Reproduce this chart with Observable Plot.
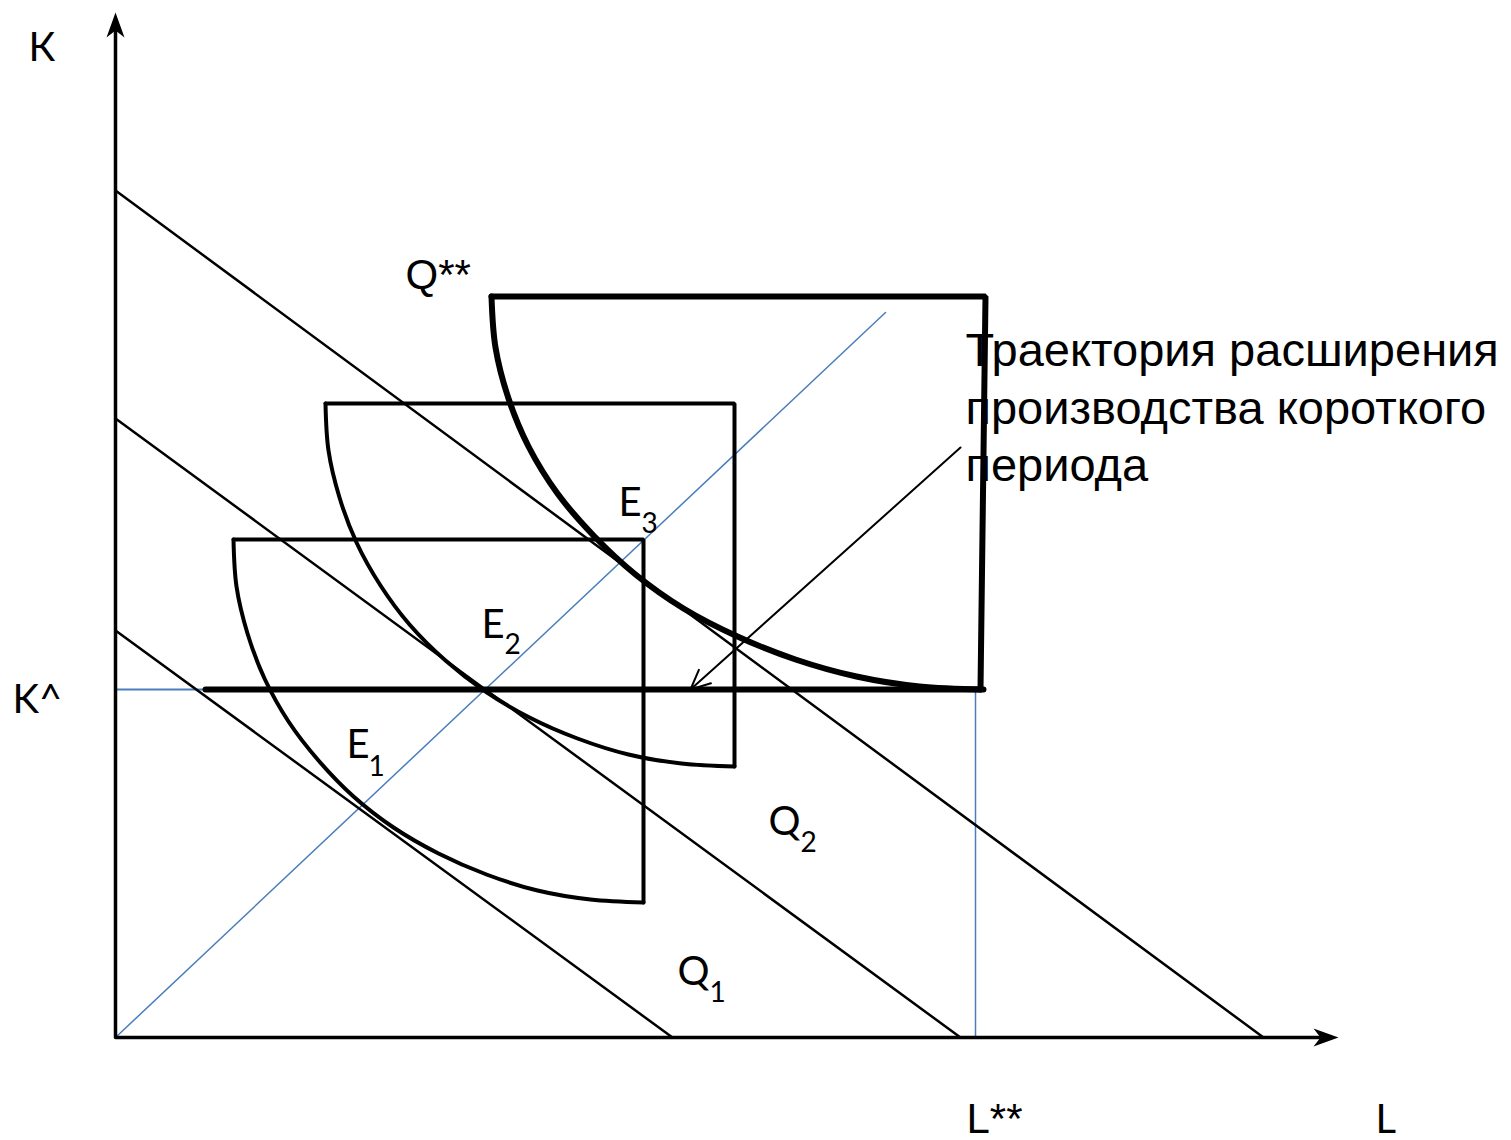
<!DOCTYPE html>
<html>
<head>
<meta charset="utf-8">
<script src="https://cdn.jsdelivr.net/npm/d3@7"></script>
<script src="https://cdn.jsdelivr.net/npm/@observablehq/plot@0.6"></script>
<style>
  html, body { margin: 0; padding: 0; background: #fff; }
  #chart svg { display: block; }
</style>
</head>
<body>
<div id="chart"></div>
<script>
// Units: L (labour) horizontally, K (capital) vertically.
const axisEnds = { L: 1223, K: 1025 };

// Isocost (budget) lines: K-intercept and L-intercept
const isocosts = [
  { name: "C1", k0: 407, l0: 557 },
  { name: "C2", k0: 619, l0: 845 },
  { name: "C3", k0: 847, l0: 1148 }
];

// Short-run isoquant arcs
const arcQ1 = [[118,498],[121,451],[132,404],[149,359],[173,316],[203,277],[238,241],[278,210],[323,184],[371,163],[422,147],[475,138],[528,135]];
const arcQ2 = [[210,634],[213,587],[224,540],[241,495],[265,452],[294,413],[330,377],[370,346],[414,320],[462,299],[513,283],[566,274],[619,271]];
const arcQss = [[376,741],[380,690],[393,639],[413,591],[442,544],[478,502],[520,463],[568,429],[622,401],[680,378],[741,361],[804,351],[868,348]];

// Box closing each isoquant (bottom-right corner, top-right corner, top-left corner)
const boxQ1 = [[528,135],[528,498],[118,498]];
const boxQ2 = [[619,271],[619,634],[210,634]];
const boxQss = [[865,348],[870,741],[376,741]];

// Fixed capital level and L**
const Khat = 348;
const Lstar = 860;
const KhatLineStart = 90;
const KhatLineEnd = 865;

// Long-run expansion path (ray from origin)
const expansionEnd = [770, 725];

// Pointer arrow from caption to short-run path
const pointer = { from: [845, 590], to: [575, 348] };

// Captions
const caption = ["Траектория расширения", "производства короткого", "периода"];
const captionX = 850;
const captionY = [687, 629, 572];

// Labels: main text, subscript
const labels = [
  { t: "E", s: "3", x: 503, y: 534, sx: 526, sy: 513 },
  { t: "E", s: "2", x: 366, y: 412, sx: 389, sy: 392 },
  { t: "E", s: "1", x: 231, y: 292, sx: 253, sy: 270 },
  { t: "Q", s: "2", x: 653, y: 215, sx: 685, sy: 194 },
  { t: "Q", s: "1", x: 562, y: 65,  sx: 594, sy: 44 }
];
const axisLabels = [
  { t: "К",   x: -87,  y: 989 },
  { t: "K^",  x: -103, y: 337 },
  { t: "L",   x: 1260, y: -83 }
];
const starLabels = [
  { t: "Q**", x: 290, y: 762 },
  { t: "L**", x: 851, y: -82 }
];

// ---------- build tables ----------
const isoRows = isocosts.flatMap(d => [{name: d.name, L: 0, K: d.k0}, {name: d.name, L: d.l0, K: 0}]);
const rows = (name, pts) => pts.map(([L, K]) => ({ name, L, K }));
const boxes12 = rows("Q1", boxQ1).concat(rows("Q2", boxQ2));
const arcs12 = rows("Q1", arcQ1).concat(rows("Q2", arcQ2));

const stealth = {
  draw(ctx, size) {
    const r = Math.sqrt(size / Math.PI);
    ctx.moveTo(0, 0);
    ctx.lineTo(0.9 * r, 2.5 * r);
    ctx.lineTo(0, 1.8 * r);
    ctx.lineTo(-0.9 * r, 2.5 * r);
    ctx.closePath();
  }
};

const blue = "#4a7ebb";
const calibri = "Lato, 'Open Sans', sans-serif";
const arial = "'Liberation Sans', Arial, sans-serif";

const chart = Plot.plot({
  width: 1511,
  height: 1140,
  margin: 0,
  x: { domain: [-115, 1396], axis: null },
  y: { domain: [-103, 1037], axis: null },
  style: { background: "#fff", overflow: "visible" },
  marks: [
    // blue helper lines
    Plot.line([[0,0], expansionEnd], { x: d => d[0], y: d => d[1], stroke: blue, strokeWidth: 1.5 }),
    Plot.line([[0,Khat],[KhatLineStart,Khat]], { x: d => d[0], y: d => d[1], stroke: blue, strokeWidth: 2 }),
    Plot.line([[Lstar,Khat],[Lstar,0]], { x: d => d[0], y: d => d[1], stroke: blue, strokeWidth: 1.5 }),
    // isocost lines
    Plot.line(isoRows, { x: "L", y: "K", z: "name", stroke: "black", strokeWidth: 2.5 }),
    // isoquant shapes
    Plot.line(boxes12, { x: "L", y: "K", z: "name", stroke: "black", strokeWidth: 4, strokeLinejoin: "miter" }),
    Plot.line(arcs12, { x: "L", y: "K", z: "name", stroke: "black", strokeWidth: 4, curve: "catmull-rom" }),
    Plot.line(rows("Q**", boxQss), { x: "L", y: "K", stroke: "black", strokeWidth: 6, strokeLinejoin: "miter" }),
    Plot.line(rows("Q**", arcQss), { x: "L", y: "K", stroke: "black", strokeWidth: 6, curve: "catmull-rom" }),
    // short-run path (K fixed)
    Plot.line([[KhatLineStart,Khat],[KhatLineEnd,Khat]], { x: d => d[0], y: d => d[1], stroke: "black", strokeWidth: 6 }),
    // axes
    Plot.line([[0, axisEnds.K - 10],[0,0],[axisEnds.L - 10, 0]], { x: d => d[0], y: d => d[1], stroke: "black", strokeWidth: 3.5 }),
    Plot.dot([{L: 0, K: axisEnds.K, r: 0}, {L: axisEnds.L, K: 0, r: 90}], { x: "L", y: "K", rotate: "r", r: 10, symbol: stealth, fill: "black", stroke: "none" }),
    // pointer arrow
    Plot.arrow([pointer], { x1: d => d.from[0], y1: d => d.from[1], x2: d => d.to[0], y2: d => d.to[1], stroke: "black", strokeWidth: 2, headLength: 16, headAngle: 50 }),
    // caption
    Plot.text(caption, { x: captionX, y: (d, i) => captionY[i], text: d => d, textAnchor: "start", fontSize: 47, fontFamily: arial, fill: "black" }),
    Plot.text(starLabels, { x: "x", y: "y", text: "t", textAnchor: "start", fontSize: 42, fontFamily: arial, fill: "black", letterSpacing: 2 }),
    Plot.text(labels, { x: "x", y: "y", text: "t", textAnchor: "start", fontSize: 40, fontFamily: calibri, fill: "black" }),
    Plot.text(labels, { x: "sx", y: "sy", text: "s", textAnchor: "start", fontSize: 28, fontFamily: calibri, fill: "black" }),
    Plot.text(axisLabels, { x: "x", y: "y", text: "t", textAnchor: "start", fontSize: 40, fontFamily: calibri, fill: "black" })
  ]
});
document.getElementById("chart").appendChild(chart);
</script>
</body>
</html>
